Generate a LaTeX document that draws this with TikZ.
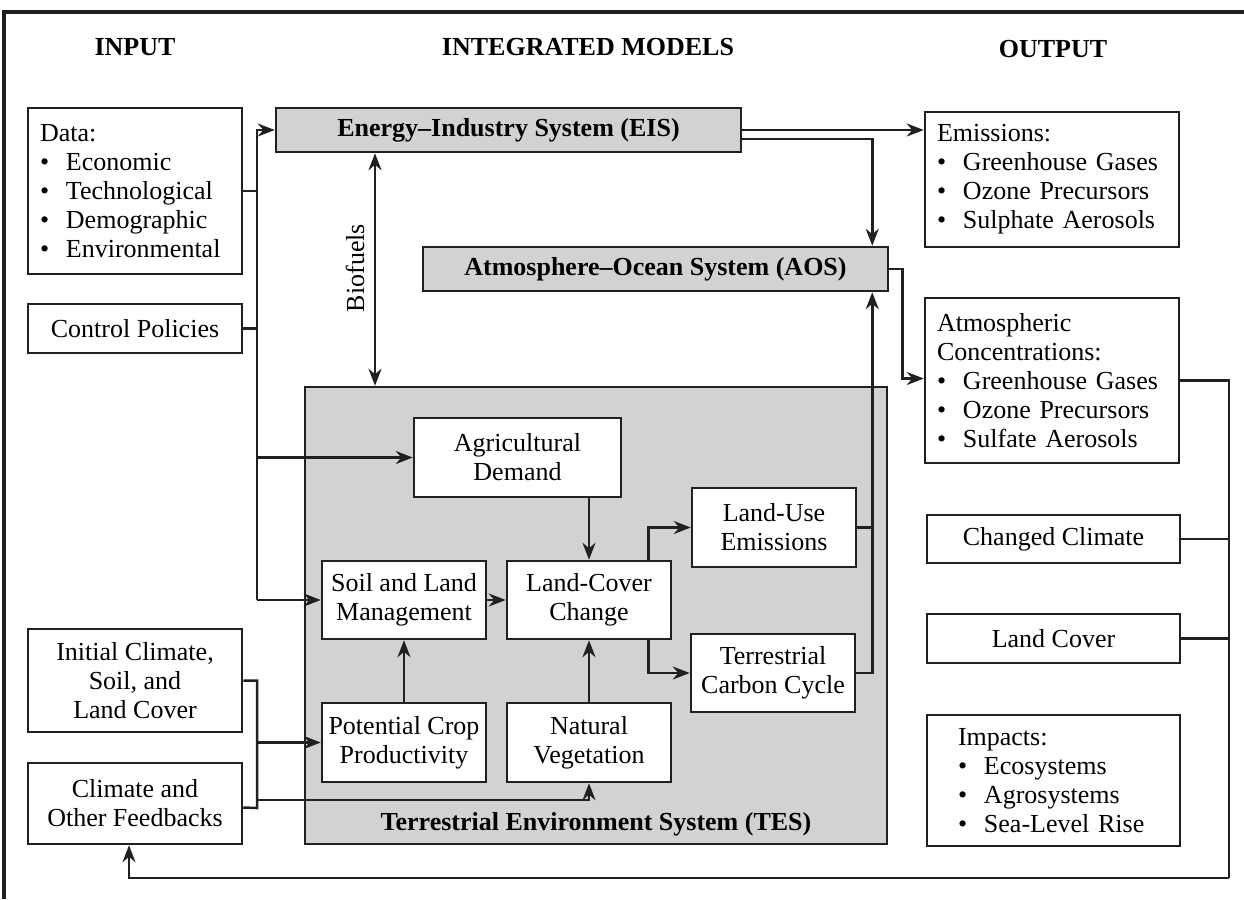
\documentclass[tikz,border=0pt]{standalone}
\usepackage{fontspec}
\setmainfont{Liberation Serif}
\usetikzlibrary{arrows.meta, positioning, calc}
\definecolor{iglsgray}{RGB}{209, 210, 212}
\definecolor{iglsline}{RGB}{35, 31, 32}
\newcommand{\bodyfont}{\fontsize{26}{29}\selectfont}
\newcommand{\itm}[1]{\makebox[26pt][l]{\textbullet}#1}

\begin{document}
\begin{tikzpicture}[
    x=1pt, y=-1pt,
    box/.style={
        draw=iglsline,
        line width=2.5pt,
        fill=white,
        align=center,
        font=\bodyfont,
        inner sep=3pt
    },
    listbox/.style={box, align=left, inner xsep=12pt, text width=#1},
    sysbox/.style={box, fill=iglsgray, font=\bodyfont\bfseries},
    heading/.style={font=\bodyfont\bfseries},
    line/.style={draw=iglsline, line width=2.5pt},
    arrow/.style={line, -{Stealth[length=17pt, width=13pt]}},
    dblarrow/.style={line, {Stealth[length=17pt, width=13pt]}-{Stealth[length=17pt, width=13pt]}}
]
\useasboundingbox (0,0) rectangle (1244,899);

% Frame
\draw[draw=iglsline, line width=3.5pt] (4,899) -- (4,12) -- (1244,12);

% Column headings
\node[heading] (input) at (135,47) {INPUT};
\node[heading] (models) at (588,47) {INTEGRATED MODELS};
\node[heading] (output) at (1053,49) {OUTPUT};

% Input boxes
\node[listbox=190pt, minimum height=166pt] (data) at (135,191)
    {Data:\\ \itm{Economic}\\ \itm{Technological}\\ \itm{Demographic}\\ \itm{Environmental}};
\node[box, minimum width=214pt, minimum height=49pt] (policies) at (135,328.5) {Control Policies};
\node[box, minimum width=214pt, minimum height=103pt] (initclim) at (135,680.5) {Initial Climate,\\ Soil, and\\ Land Cover};
\node[box, minimum width=214pt, minimum height=81pt] (feedback) at (135,803.5) {Climate and\\ Other Feedbacks};

% Integrated models
\node[sysbox, minimum width=465pt, minimum height=44pt] (eis) at (508.5,130) {Energy–Industry System (EIS)};
\node[sysbox, minimum width=465pt, minimum height=44pt] (aos) at (655.5,269) {Atmosphere–Ocean System (AOS)};
\node[sysbox, minimum width=582pt, minimum height=457pt] (tes) at (596,615.5) {};
\node[heading, above=6pt of tes.south] (teslabel) {Terrestrial Environment System (TES)};

% Inside the TES
\node[box, minimum width=207pt, minimum height=79pt] (agdem) at (517.5,457.5) {Agricultural\\ Demand};
\node[box, minimum width=164pt, minimum height=78pt] (soil) at (404,600) {Soil and Land\\ Management};
\node[box, minimum width=164pt, minimum height=78pt] (lcc) at (589,600) {Land-Cover\\ Change};
\node[box, minimum width=164pt, minimum height=79pt] (lue) at (774,527.5) {Land-Use\\ Emissions};
\node[box, minimum width=164pt, minimum height=78pt] (tcc) at (773,673) {Terrestrial\\ Carbon Cycle};
\node[box, minimum width=164pt, minimum height=79pt] (pcp) at (404,742.5) {Potential Crop\\ Productivity};
\node[box, minimum width=164pt, minimum height=79pt] (natveg) at (589,742.5) {Natural\\ Vegetation};

% Output boxes
\node[listbox=230pt, minimum height=135pt] (emis) at (1052,179.5)
    {Emissions:\\ \itm{Greenhouse Gases}\\ \itm{Ozone Precursors}\\ \itm{Sulphate Aerosols}};
\node[listbox=230pt, minimum height=165pt] (conc) at (1052,380.5)
    {Atmospheric\\ Concentrations:\\ \itm{Greenhouse Gases}\\ \itm{Ozone Precursors}\\ \itm{Sulfate Aerosols}};
\node[box, minimum width=253pt, minimum height=48pt] (climate) at (1053.5,539) {Changed Climate};
\node[box, minimum width=253pt, minimum height=49pt] (landcover) at (1053.5,638.5) {Land Cover};
\node[listbox=191pt, inner xsep=31pt, minimum height=131pt] (impacts) at (1053.5,780.5)
    {Impacts:\\ \itm{Ecosystems}\\ \itm{Agrosystems}\\ \itm{Sea-Level Rise}};

% Bus points
\coordinate (bustop) at (257,130);
\coordinate (busbot) at (257,600);
\coordinate (lbus) at (257,808);
\coordinate (natline) at (257,800);
\coordinate (biox) at (375,270);
\coordinate (rbus) at (1229,878);

% Inputs to the models
\draw[line] (data.east) -- (data.east -| bustop);
\draw[line] (policies.east) -- (policies.east -| bustop);
\draw[arrow] (busbot) -- (bustop) -- (eis.west);
\draw[arrow] (agdem.west -| bustop) -- (agdem.west);
\draw[arrow] (busbot) -- (soil.west);
\draw[line] (initclim.east) -| (lbus) -- ([yshift=-4pt]feedback.east);
\draw[arrow] (pcp.west -| lbus) -- (pcp.west);
\draw[arrow] (natline) -| (natveg.south);

% Biofuels
\draw[dblarrow] (eis.south -| biox) -- (tes.north -| biox);
\node[rotate=90, font=\bodyfont] (biofuels) at (355,268) {Biofuels};

% Inside the TES
\draw[arrow] (lcc.north |- agdem.south) -- (lcc.north);
\draw[arrow] (soil) -- (lcc);
\draw[arrow] (pcp) -- (soil);
\draw[arrow] (natveg) -- (lcc);
\draw[arrow] ([xshift=-24pt]lcc.north east) |- (lue.west);
\draw[arrow] ([xshift=-24pt]lcc.south east) |- (tcc.west);
\draw[line] (lue.east) -- (lue.east -| tcc.east) -- ([xshift=16pt]lue.east -| tcc.east);
\draw[arrow] (tcc.east) -| ([xshift=-17pt]aos.south east);

% Models to outputs
\draw[arrow] (eis.east) -- (eis.east -| emis.west);
\draw[arrow] ([yshift=-9pt]eis.east) -| ([xshift=-17pt]aos.north east);
\draw[arrow] (aos.east) -- ++(13,0) |- ([yshift=2pt]conc.west);

% Feedback
\draw[line] (conc.east) -| (rbus);
\draw[line] (climate.east) -- (climate.east -| rbus);
\draw[line] (landcover.east) -- (landcover.east -| rbus);
\draw[arrow] (rbus) -| ([xshift=-6pt]feedback.south);

\end{tikzpicture}
\end{document}
